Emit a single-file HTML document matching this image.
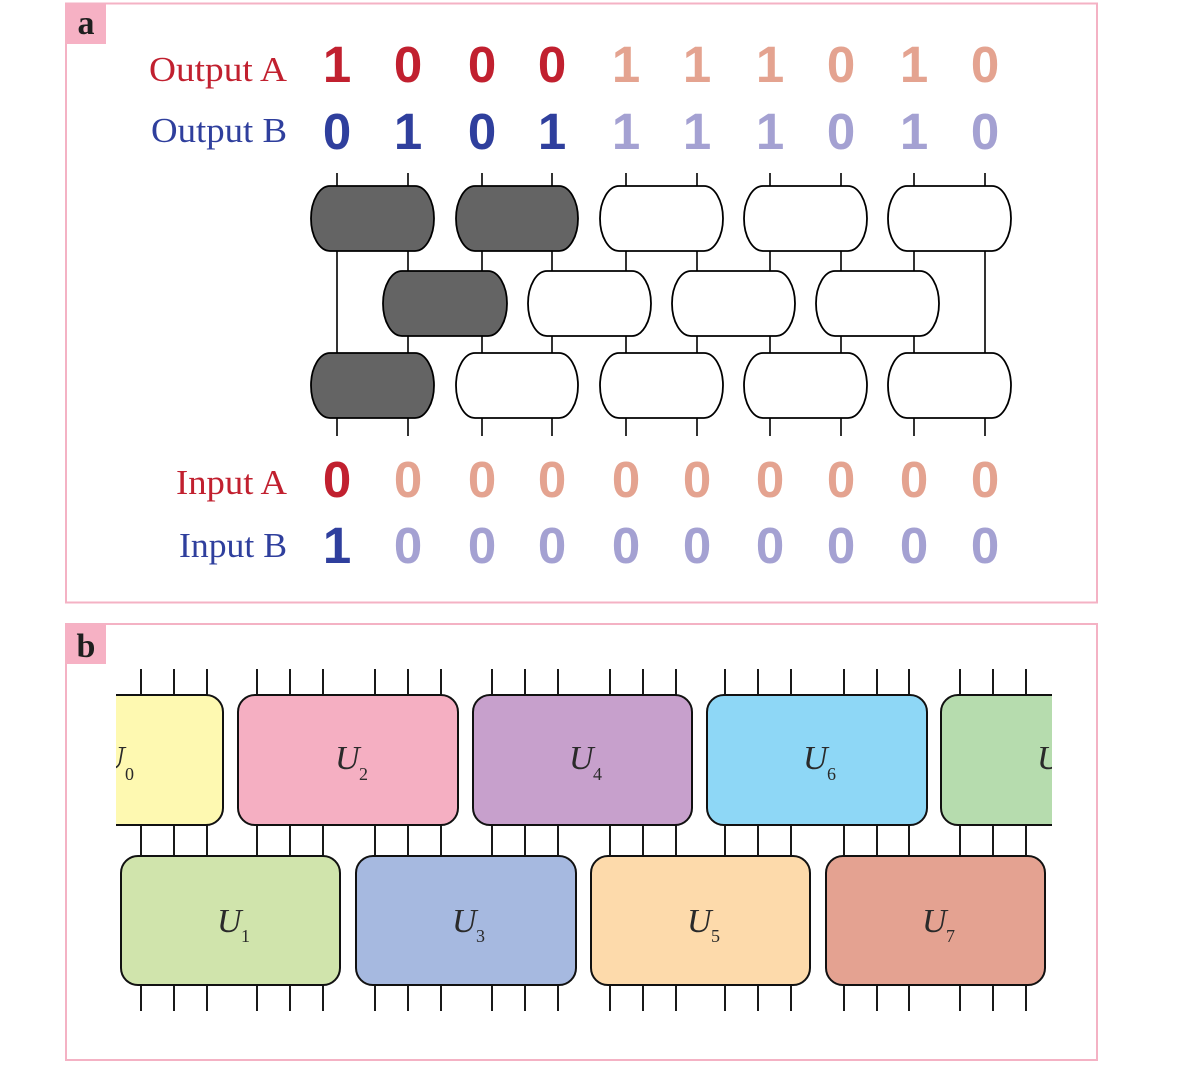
<!DOCTYPE html>
<html><head><meta charset="utf-8"><style>
html,body{margin:0;padding:0;background:#fff;}
svg{display:block;}
</style></head><body>
<svg width="1200" height="1065" viewBox="0 0 1200 1065" xmlns="http://www.w3.org/2000/svg">
<rect x="0" y="0" width="1200" height="1065" fill="#fff"/>
<!-- Panel frames -->
<rect x="66" y="3.5" width="1031" height="599" fill="none" stroke="#f4b2c4" stroke-width="2"/>
<rect x="66" y="4" width="40" height="40" fill="#f6b1c4"/>
<text x="86" y="34" font-family="Liberation Serif, serif" font-weight="bold" font-size="34" text-anchor="middle" fill="#1e1e1e">a</text>
<rect x="66" y="624" width="1031" height="436" fill="none" stroke="#f4b2c4" stroke-width="2"/>
<rect x="66" y="624" width="40" height="40" fill="#f6b1c4"/>
<text x="86" y="657" font-family="Liberation Serif, serif" font-weight="bold" font-size="34" text-anchor="middle" fill="#1e1e1e">b</text>

<!-- Panel a labels -->
<g font-family="Liberation Serif, serif" font-size="35">
<text x="287" y="81" text-anchor="end" fill="#c1202f" textLength="138" lengthAdjust="spacingAndGlyphs">Output A</text>
<text x="287" y="142" text-anchor="end" fill="#2f3f9d" textLength="136" lengthAdjust="spacingAndGlyphs">Output B</text>
<text x="287" y="494" text-anchor="end" fill="#c1202f" textLength="111" lengthAdjust="spacingAndGlyphs">Input A</text>
<text x="287" y="557" text-anchor="end" fill="#2f3f9d" textLength="108" lengthAdjust="spacingAndGlyphs">Input B</text>
</g>
<g font-family="Liberation Sans, sans-serif" font-weight="bold" font-size="51" text-anchor="middle">
<!-- Output A: 1 0 0 0 1 1 1 0 1 0 -->
<g fill="#c1202f">
<text x="337" y="82">1</text><text x="408" y="82">0</text><text x="482" y="82">0</text><text x="552" y="82">0</text>
</g>
<g fill="#e4a390">
<text x="626" y="82">1</text><text x="697" y="82">1</text><text x="770" y="82">1</text><text x="841" y="82">0</text><text x="914" y="82">1</text><text x="985" y="82">0</text>
</g>
<!-- Output B: 0 1 0 1 1 1 1 0 1 0 -->
<g fill="#2f3f9d">
<text x="337" y="149">0</text><text x="408" y="149">1</text><text x="482" y="149">0</text><text x="552" y="149">1</text>
</g>
<g fill="#a4a1d2">
<text x="626" y="149">1</text><text x="697" y="149">1</text><text x="770" y="149">1</text><text x="841" y="149">0</text><text x="914" y="149">1</text><text x="985" y="149">0</text>
</g>
<!-- Input A -->
<text x="337" y="497" fill="#c1202f">0</text>
<g fill="#e4a390">
<text x="408" y="497">0</text><text x="482" y="497">0</text><text x="552" y="497">0</text><text x="626" y="497">0</text><text x="697" y="497">0</text><text x="770" y="497">0</text><text x="841" y="497">0</text><text x="914" y="497">0</text><text x="985" y="497">0</text>
</g>
<!-- Input B -->
<text x="337" y="563" fill="#2f3f9d">1</text>
<g fill="#a4a1d2">
<text x="408" y="563">0</text><text x="482" y="563">0</text><text x="552" y="563">0</text><text x="626" y="563">0</text><text x="697" y="563">0</text><text x="770" y="563">0</text><text x="841" y="563">0</text><text x="914" y="563">0</text><text x="985" y="563">0</text>
</g>
</g>

<!-- Panel a circuit wires -->
<g stroke="#000" stroke-width="1.6">
<!-- top legs -->
<path d="M337 173V186M408 173V186M482 173V186M552 173V186M626 173V186M697 173V186M770 173V186M841 173V186M914 173V186M985 173V186"/>
<!-- top to middle -->
<path d="M408 251V271M482 251V271M552 251V271M626 251V271M697 251V271M770 251V271M841 251V271M914 251V271"/>
<path d="M337 251V353M985 251V353"/>
<!-- middle to bottom -->
<path d="M408 336V353M482 336V353M552 336V353M626 336V353M697 336V353M770 336V353M841 336V353M914 336V353"/>
<!-- bottom legs -->
<path d="M337 418V436M408 418V436M482 418V436M552 418V436M626 418V436M697 418V436M770 418V436M841 418V436M914 418V436M985 418V436"/>
</g>
<!-- Panel a gates -->
<g stroke="#000" stroke-width="1.8">
<rect x="311" y="186" width="123" height="65" rx="19" ry="32.5" fill="#646464"/>
<rect x="456" y="186" width="122" height="65" rx="19" ry="32.5" fill="#646464"/>
<rect x="600" y="186" width="123" height="65" rx="19" ry="32.5" fill="#fff"/>
<rect x="744" y="186" width="123" height="65" rx="19" ry="32.5" fill="#fff"/>
<rect x="888" y="186" width="123" height="65" rx="19" ry="32.5" fill="#fff"/>

<rect x="383" y="271" width="124" height="65" rx="19" ry="32.5" fill="#646464"/>
<rect x="528" y="271" width="123" height="65" rx="19" ry="32.5" fill="#fff"/>
<rect x="672" y="271" width="123" height="65" rx="19" ry="32.5" fill="#fff"/>
<rect x="816" y="271" width="123" height="65" rx="19" ry="32.5" fill="#fff"/>

<rect x="311" y="353" width="123" height="65" rx="19" ry="32.5" fill="#646464"/>
<rect x="456" y="353" width="122" height="65" rx="19" ry="32.5" fill="#fff"/>
<rect x="600" y="353" width="123" height="65" rx="19" ry="32.5" fill="#fff"/>
<rect x="744" y="353" width="123" height="65" rx="19" ry="32.5" fill="#fff"/>
<rect x="888" y="353" width="123" height="65" rx="19" ry="32.5" fill="#fff"/>
</g>

<!-- Panel b -->
<defs>
<clipPath id="cb"><rect x="116" y="640" width="936" height="400"/></clipPath>
</defs>
<g clip-path="url(#cb)">
<g stroke="#000" stroke-width="1.8">
<!-- top legs -->
<path d="M141 669V695M174 669V695M207 669V695
M257 669V695M290 669V695M323 669V695M375 669V695M408 669V695M441 669V695
M492 669V695M525 669V695M558 669V695M610 669V695M643 669V695M676 669V695
M725 669V695M758 669V695M791 669V695M844 669V695M877 669V695M909 669V695
M960 669V695M993 669V695M1026 669V695"/>
<!-- between rows -->
<path d="M141 825V856M174 825V856M207 825V856
M257 825V856M290 825V856M323 825V856M375 825V856M408 825V856M441 825V856
M492 825V856M525 825V856M558 825V856M610 825V856M643 825V856M676 825V856
M725 825V856M758 825V856M791 825V856M844 825V856M877 825V856M909 825V856
M960 825V856M993 825V856M1026 825V856"/>
<!-- bottom legs -->
<path d="M141 985V1011M174 985V1011M207 985V1011
M257 985V1011M290 985V1011M323 985V1011M375 985V1011M408 985V1011M441 985V1011
M492 985V1011M525 985V1011M558 985V1011M610 985V1011M643 985V1011M676 985V1011
M725 985V1011M758 985V1011M791 985V1011M844 985V1011M877 985V1011M909 985V1011
M960 985V1011M993 985V1011M1026 985V1011"/>
</g>
<g stroke="#111" stroke-width="2">
<rect x="3" y="695" width="220" height="130" rx="17" fill="#fef9b1"/>
<rect x="238" y="695" width="220" height="130" rx="17" fill="#f5afc2"/>
<rect x="473" y="695" width="219" height="130" rx="17" fill="#c7a0cc"/>
<rect x="707" y="695" width="220" height="130" rx="17" fill="#8ed7f6"/>
<rect x="941" y="695" width="220" height="130" rx="17" fill="#b6dcae"/>

<rect x="121" y="856" width="219" height="129" rx="17" fill="#d0e4ac"/>
<rect x="356" y="856" width="220" height="129" rx="17" fill="#a6b9e0"/>
<rect x="591" y="856" width="219" height="129" rx="17" fill="#fddaab"/>
<rect x="826" y="856" width="219" height="129" rx="17" fill="#e4a291"/>
</g>
<g fill="#2a2a2a" font-family="Liberation Serif, serif">
<g font-style="italic" font-size="34">
<text x="100" y="769">U</text>
<text x="335" y="769">U</text>
<text x="569" y="769">U</text>
<text x="803" y="769">U</text>
<text x="1037" y="769">U</text>
<text x="217" y="932">U</text>
<text x="452" y="932">U</text>
<text x="687" y="932">U</text>
<text x="922" y="932">U</text>
</g>
<g font-size="18">
<text x="125" y="780">0</text>
<text x="359" y="780">2</text>
<text x="593" y="780">4</text>
<text x="827" y="780">6</text>
<text x="1061" y="780">8</text>
<text x="241" y="942">1</text>
<text x="476" y="942">3</text>
<text x="711" y="942">5</text>
<text x="946" y="942">7</text>
</g>
</g>
</g>
</svg>
</body></html>
